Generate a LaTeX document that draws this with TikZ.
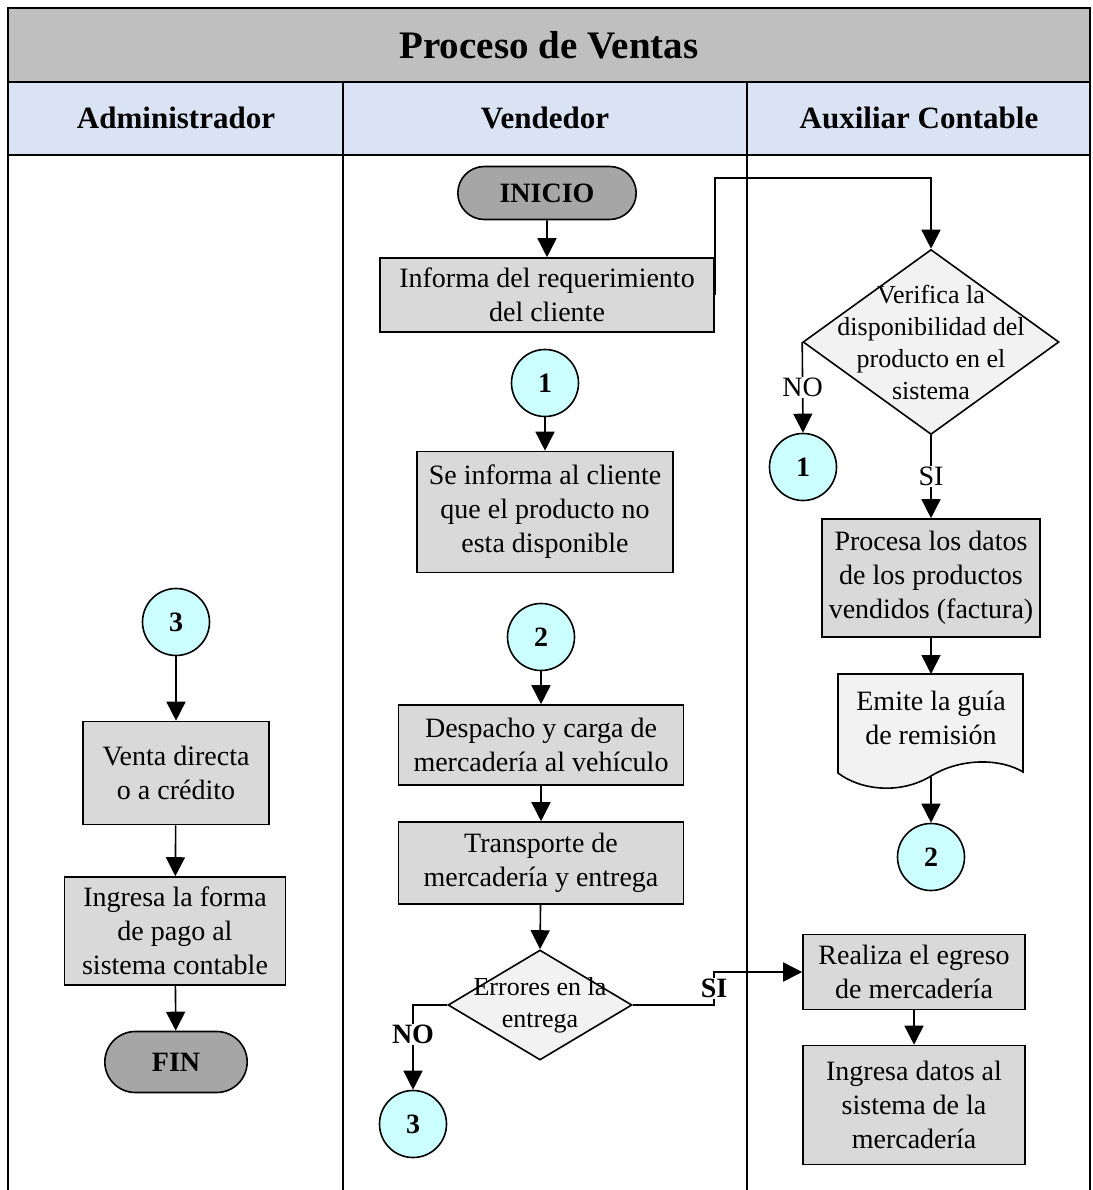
\documentclass[tikz,border=0pt]{standalone}
\usepackage{fontspec}
\setmainfont{Liberation Serif}
\usetikzlibrary{shapes.geometric,shapes.misc,arrows.meta}
\definecolor{boxg}{HTML}{D9D9D9}
\definecolor{termg}{HTML}{A6A6A6}
\definecolor{diag}{HTML}{F2F2F2}
\definecolor{cyanc}{HTML}{CCFFFF}
\definecolor{titleg}{HTML}{BFBFBF}
\definecolor{headb}{HTML}{DAE3F3}
\begin{document}
\begin{tikzpicture}[x=1pt,y=-1pt,
  every node/.style={font=\fontsize{28}{34}\selectfont},
  proc/.style={draw, line width=1.6pt, fill=boxg, align=center, inner sep=2pt},
  term/.style={rounded rectangle, draw, line width=1.6pt, fill=termg, minimum width=185pt, minimum height=53pt, font=\fontsize{28}{34}\selectfont\bfseries},
  conn/.style={circle, draw, line width=1.6pt, fill=cyanc, minimum size=67pt, inner sep=0pt, font=\fontsize{28}{34}\selectfont\bfseries},
  dec/.style={diamond, draw, line width=1.6pt, fill=diag, inner sep=0pt},
  dtxt/.style={font=\fontsize{26}{32}\selectfont, align=center, inner sep=0pt},
  arr/.style={line width=1.6pt, -{Triangle[length=19pt,width=19pt]}},
  lbl/.style={fill=white, inner sep=1pt, font=\fontsize{28}{30}\selectfont},
  lblb/.style={fill=white, inner sep=1pt, font=\fontsize{28}{30}\selectfont\bfseries},
  frame/.style={line width=2pt},
]
\useasboundingbox (0,0) rectangle (1092,1190);
% swimlane frame
\fill[titleg] (8,8) rectangle (1090,82);
\fill[headb] (8,82) rectangle (1090,155);
\draw[frame] (8,1190) -- (8,8) -- (1090,8) -- (1090,1190);
\draw[frame] (8,82) -- (1090,82);
\draw[frame] (8,155) -- (1090,155);
\draw[frame] (343,82) -- (343,1190);
\draw[frame] (747,82) -- (747,1190);
\node[font=\fontsize{39}{42}\selectfont\bfseries] (title) at (549,45) {Proceso de Ventas};
\node[font=\fontsize{31}{34}\selectfont\bfseries] (h1) at (176,118) {Administrador};
\node[font=\fontsize{31}{34}\selectfont\bfseries] (h2) at (545,118) {Vendedor};
\node[font=\fontsize{31}{34}\selectfont\bfseries] (h3) at (919,118) {Auxiliar Contable};

% Vendedor lane
\node[term] (ini) at (547,193) {INICIO};
\node[proc, minimum width=334pt, minimum height=74pt] (b1) at (547,295) {Informa del requerimiento\\del cliente};
\node[conn] (k1) at (545,383) {1};
\node[proc, minimum width=256pt, minimum height=121pt] (b2) at (545,512) {Se informa al cliente\\que el producto no\\esta disponible};
\node[conn] (k2) at (541,637) {2};
\node[proc, minimum width=285pt, minimum height=80pt] (b3) at (541,745) {Despacho y carga de\\mercadería al vehículo};
\node[proc, minimum width=285pt, minimum height=82pt] (b4) at (541,863) {Transporte de\\mercadería y entrega};
\node[dec, minimum width=184pt, minimum height=110pt, label={[dtxt]center:{Errores en la\\entrega}}] (d2) at (540,1005) {};
\node[conn] (k3v) at (413,1124) {3};

% Auxiliar Contable lane
\node[dec, minimum width=256pt, minimum height=185pt, label={[dtxt]center:{Verifica la\\disponibilidad del\\producto en el\\sistema}}] (d1) at (931,342) {};
\node[conn] (k1a) at (803,467) {1};
\node[proc, minimum width=218pt, minimum height=118pt] (b5) at (931,578) {Procesa los datos\\de los productos\\vendidos (factura)};
\fill[diag] (838,674) -- (1023,674) -- (1023,772) .. controls (1000,758) and (960,758) .. (931,776) .. controls (900,795) and (860,790) .. (838,773) -- cycle;
\draw[line width=1.6pt, line join=miter] (838,674) -- (1023,674) -- (1023,772) .. controls (1000,758) and (960,758) .. (931,776) .. controls (900,795) and (860,790) .. (838,773) -- cycle;
\node[align=center] (doc) at (931,718) {Emite la guía\\de remisión};
\coordinate (doct) at (931,674);
\coordinate (docb) at (931,777);
\node[conn] (k2a) at (931,857) {2};
\node[proc, minimum width=222pt, minimum height=75pt] (b6) at (914,972) {Realiza el egreso\\de mercadería};
\node[proc, minimum width=222pt, minimum height=119pt] (b7) at (914,1105) {Ingresa datos al\\sistema de la\\mercadería};

% Administrador lane
\node[conn] (k3) at (176,622) {3};
\node[proc, minimum width=186pt, minimum height=103pt] (b8) at (176,773) {Venta directa\\o a crédito};
\node[proc, minimum width=221pt, minimum height=108pt] (b9) at (175,931) {Ingresa la forma\\de pago al\\sistema contable};
\node[term, minimum width=149pt, minimum height=61pt] (fin) at (176,1062) {FIN};

% connectors
\coordinate (top) at (714,178);
\coordinate (sicor) at (714,972);
\draw[arr] (ini) -- (b1);
\draw[arr] (b1.east) -- (b1.east |- top) -- (d1.north |- top) -- (d1.north);
\draw[arr] (k1) -- (b2);
\draw[arr] (k2) -- (b3);
\draw[arr] (b3) -- (b4);
\draw[arr] (b4) -- (d2.north);
\draw[arr] (d2.west) -| node[lblb, pos=0.674] (no2) {NO} (k3v.north);
\draw[arr] (d2.east) -- (d2.east -| sicor) -- node[lblb, pos=0.5] (si2) {SI} (sicor) -- (b6.west);
\draw[arr] (d1.west) -- node[lbl] (no1) {NO} (k1a.north);
\draw[arr] (d1.south) -- node[lbl] (si1) {SI} (b5.north);
\draw[arr] (b5) -- (doct);
\draw[arr] (docb) -- (k2a);
\draw[arr] (b6) -- (b7);
\draw[arr] (k3) -- (b8);
\draw[arr] (b8) -- (b9);
\draw[arr] (b9) -- (fin);
\end{tikzpicture}
\end{document}
